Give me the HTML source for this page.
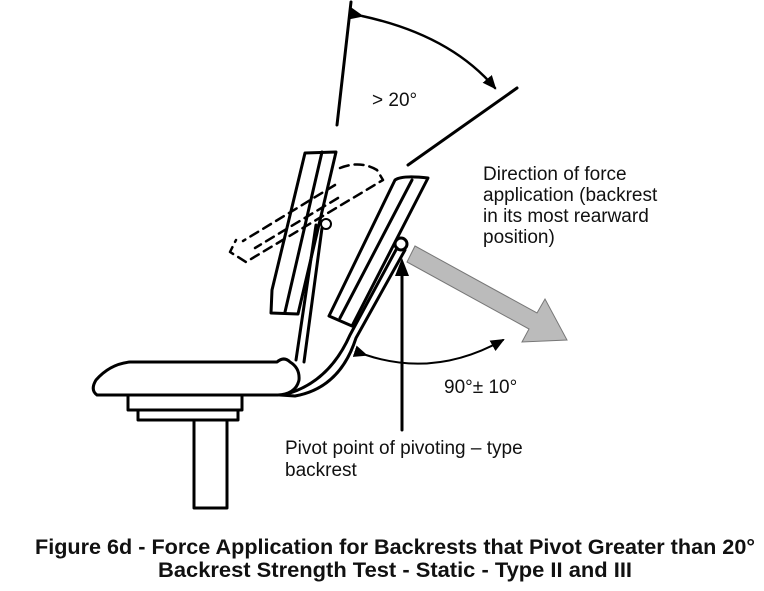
<!DOCTYPE html>
<html><head><style>
body{margin:0;background:#fff;}
svg{display:block;}
text{font-family:"Liberation Sans",Arial,sans-serif;fill:#111;}
</style></head><body>
<svg width="764" height="591" viewBox="0 0 764 591">
<defs>
<marker id="ah" markerWidth="14" markerHeight="12" refX="12" refY="6" orient="auto" markerUnits="userSpaceOnUse"><path d="M0,0 L14,6 L0,12 Z" fill="#000"/></marker>
</defs>
<g fill="none" stroke="#000" stroke-width="3" stroke-linecap="round" stroke-linejoin="round">
<line x1="351" y1="2" x2="337" y2="125"/>
<line x1="408" y1="165" x2="517" y2="88"/>
<path d="M362,16 Q450,35 495,88" stroke-width="2.5" marker-start="url(#ah)" marker-end="url(#ah)"/>
<path d="M130,362 L277,362 Q284,356 290,362 Q300,368 299,380 Q296,394 278,395 L97,395 Q90,390 96,380 Q110,364 130,362 Z"/>
<rect x="128" y="395" width="114" height="15" stroke-width="3"/>
<rect x="138" y="410" width="100" height="10"/>
<rect x="194" y="420" width="33" height="88"/>
<line x1="296" y1="360" x2="316" y2="225"/>
<line x1="304" y1="362" x2="322" y2="228"/>
<path d="M305,153 L336,152 L298,314 L271,313 L272,290 Z" />
<line x1="322" y1="152" x2="285" y2="312"/>
<circle cx="326" cy="224" r="5" stroke-width="2"/>
<g stroke-dasharray="9,6" stroke-width="2.5">
<path d="M340,168 Q360,160 377,170 L383,180 L246,262 L230,252 L236,240"/>
<line x1="335" y1="185" x2="243" y2="241"/>
<line x1="338" y1="198" x2="255" y2="248"/>
</g>
<path d="M395,180 Q402,175 428,178 L352,326 L329,316 Z"/>
<line x1="412" y1="180" x2="340" y2="318"/>
<path d="M397,248 L350,335 Q330,380 290,393"/>
<path d="M405,250 L356,338 Q340,388 295,396 L280,395"/>
<circle cx="401" cy="244" r="6" stroke-width="3"/>
<line x1="402" y1="430" x2="402" y2="272" stroke-width="3"/>
<path d="M366,355 Q435,378 503,340" stroke-width="2" marker-start="url(#ah)" marker-end="url(#ah)"/>
</g>
<path d="M402,258 L395,276 L409,276 Z" fill="#000"/>
<polygon points="415,246 537,313 545,299 567,340 522,342 529,329 407,262" fill="#bbb" stroke="#777" stroke-width="1"/>
<text x="372" y="106" font-size="19">&gt; 20°</text>
<text x="483" y="180" font-size="19">Direction of force</text>
<text x="483" y="201" font-size="19">application (backrest</text>
<text x="483" y="222" font-size="19">in its most rearward</text>
<text x="483" y="243" font-size="19">position)</text>
<text x="444" y="393" font-size="19">90°± 10°</text>
<text x="285" y="454" font-size="19">Pivot point of pivoting – type</text>
<text x="285" y="476" font-size="19">backrest</text>
<text x="35" y="554" font-size="21" font-weight="bold" textLength="720" lengthAdjust="spacingAndGlyphs">Figure 6d - Force Application for Backrests that Pivot Greater than 20°</text>
<text x="158" y="577" font-size="21" font-weight="bold" textLength="474" lengthAdjust="spacingAndGlyphs">Backrest Strength Test - Static - Type II and III</text>
</svg>
</body></html>
